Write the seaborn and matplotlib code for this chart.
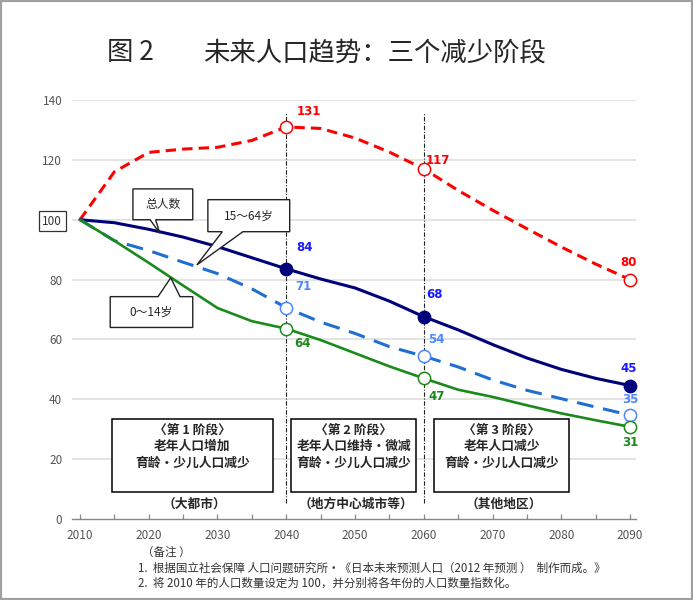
import numpy as np
import pandas as pd
import matplotlib
matplotlib.use("Agg")
import matplotlib.pyplot as plt
from matplotlib.patches import Rectangle, Polygon
import seaborn as sns

# index values (2010 = 100)
years = [2010, 2015, 2020, 2025, 2030, 2035, 2040, 2045, 2050,
         2055, 2060, 2065, 2070, 2075, 2080, 2085, 2090]
elderly = [100, 116, 122.5, 123.6, 124.2, 126.5, 131, 130.5, 127.3,
           122.6, 117, 109.8, 103.2, 97, 90.9, 85.2, 80]
total = [100, 99, 96.8, 94.2, 91, 87.3, 83.6, 80.2, 77.2,
         72.8, 67.6, 63.2, 58.3, 53.8, 50, 47, 44.6]
working = [100, 93, 89.7, 85.8, 82, 76.9, 70.6, 65.8, 62,
           57.6, 54.4, 50.8, 46.5, 43, 40.2, 37.4, 34.7]
children = [100, 93, 85.6, 78, 70.5, 66.1, 63.6, 59.8, 55.4,
            51, 47, 43.2, 40.8, 38, 35.3, 33, 30.8]
mark_years = [2040, 2060, 2090]
stage_lines = [2040, 2060]

yticks = [0, 20, 40, 60, 80, 100, 120, 140]
xticks = [2010, 2020, 2030, 2040, 2050, 2060, 2070, 2080, 2090]

stage_titles = ['〈第 1 阶段〉', '〈第 2 阶段〉', '〈第 3 阶段〉']
stage_line1 = ['老年人口增加', '老年人口维持・微减', '老年人口减少']
stage_line2 = ['育龄・少儿人口减少', '育龄・少儿人口减少', '育龄・少儿人口减少']
stage_areas = ['（大都市）', '（地方中心城市等）', '（其他地区）']

notes = ['（备注 ）',
         '1.  根据国立社会保障 人口问题研究所・《日本未来预测人口（2012 年预测 ）  制作而成。》',
         '2.  将 2010 年的人口数量设定为 100，并分别将各年份的人口数量指数化。']

sns.set_theme(style='white')
plt.rcParams['font.family'] = ['Noto Sans CJK SC', 'DejaVu Sans']

df = pd.DataFrame({'year': years, 'elderly': elderly, 'total': total,
                   'working': working, 'children': children})

fig = plt.figure(figsize=(6.93, 6.0), dpi=100)
ax = fig.add_axes([0.1039, 0.135, 0.8139, 0.6983])

series = [
    # col, line colour, lw, linestyle, marker face, marker edge, label colour, label offsets (pt)
    ('elderly', '#ff0000', 2.2, (0, (3.4, 2.0)), 'white', '#ff0000', '#ff0000',
     [(16, 11), (10, 6), (-1, 12)]),
    ('total', '#00007a', 2.2, '-', '#00007a', '#00007a', '#1a1aff',
     [(13, 15), (8, 16), (-1, 12)]),
    ('working', '#1f6fd0', 2.2, (0, (5.5, 3.2)), 'white', '#4d88ff', '#4d88ff',
     [(12, 15), (9, 12), (0, 11)]),
    ('children', '#1a8a1a', 1.9, '-', 'white', '#1a8a1a', '#1a8a1a',
     [(12, -11), (9, -13), (0, -11)]),
]

for yv in yticks[1:]:
    ax.axhline(yv, color='#dcdcdc', lw=1.1, zorder=0)

for xv in stage_lines:
    ax.plot([xv, xv], [5.5, 136], color='#222222', lw=0.8,
            linestyle=(0, (4, 1.5, 1, 1.5)), zorder=1)

for col, lc, lw, ls, fc, ec, tc, offs in series:
    sns.lineplot(data=df, x='year', y=col, ax=ax, color=lc, linewidth=lw,
                 linestyle=ls, zorder=2)
    sub = df[df['year'].isin(mark_years)]
    sns.scatterplot(data=sub, x='year', y=col, ax=ax, s=78, color=fc,
                    edgecolor=ec, linewidth=1.1, zorder=4, clip_on=False)
    for (_, r), off in zip(sub.iterrows(), offs):
        ax.annotate(f'{round(r[col])}', (r['year'], r[col]), xytext=off,
                    textcoords='offset points', ha='center', va='center',
                    color=tc, fontsize=8.5, fontweight='bold',
                    family=['DejaVu Sans'], zorder=5)

# stage boxes
box_x = [(2014.7, 2038.0), (2040.7, 2058.9), (2061.5, 2081.1)]
for (x0, x1), t0, t1, t2, area in zip(box_x, stage_titles, stage_line1,
                                      stage_line2, stage_areas):
    ax.add_patch(Rectangle((x0, 9.0), x1 - x0, 24.3, facecolor='white',
                           edgecolor='black', lw=1.1, zorder=3))
    cx = (x0 + x1) / 2
    for yy, t in zip([29.6, 24.2, 18.6], [t0, t1, t2]):
        ax.text(cx, yy, t, ha='center', va='center', fontsize=9.2,
                fontweight='bold', zorder=4)
    ax.text(cx + 0.3, 5.0, area, ha='center', va='center', fontsize=9.2,
            fontweight='bold', zorder=4)

# callouts
callouts = [
    ('总人数', (2022.1, 105.2),
     [(2017.7, 110.3), (2026.4, 110.3), (2026.4, 100), (2021.0, 100),
      (2021.6, 95.5), (2020.2, 100), (2017.7, 100)]),
    ('15～64岁', (2034.6, 101.3),
     [(2028.6, 106.7), (2040.5, 106.7), (2040.5, 96), (2033.7, 96),
      (2027.0, 84.9), (2030.7, 96), (2028.6, 96)]),
    ('0～14岁', (2020.4, 69.2),
     [(2014.4, 74.3), (2021.35, 74.3), (2023.2, 80.6), (2024.55, 74.3),
      (2026.4, 74.3), (2026.4, 64), (2014.4, 64)]),
]
for txt, pos, pts in callouts:
    ax.add_patch(Polygon(pts, closed=True, facecolor='white', edgecolor='#222222',
                         lw=1.0, zorder=6, clip_on=False))
    ax.text(pos[0], pos[1], txt, ha='center', va='center', fontsize=8.5, zorder=7)

ax.set_xlim(2008.84, 2090.87)
ax.set_ylim(0, 140)
ax.set_xticks(xticks)
ax.set_xticks([x + 5 for x in xticks[:-1]], minor=True)
ax.set_yticks(yticks)
ax.tick_params(axis='x', which='both', direction='in', length=3.5, width=0.9,
               color='#888888', labelsize=8.5, labelcolor='#555555', pad=7,
               bottom=True)
ax.tick_params(axis='y', length=0, labelsize=8.5, labelcolor='#555555', pad=7)
for lab in ax.get_yticklabels():
    if lab.get_text() == '100':
        lab.set_bbox(dict(boxstyle='square,pad=0.3', facecolor='white',
                          edgecolor='#333333', lw=0.9))
        lab.set_color('#333333')
ax.set_xlabel('')
ax.set_ylabel('')
for s in ['left', 'top', 'right']:
    ax.spines[s].set_visible(False)
ax.spines['bottom'].set_color('#888888')
ax.spines['bottom'].set_linewidth(1.0)

# title
fig.text(107 / 693, 1 - 53 / 600, '图 2', fontsize=19, va='center', ha='left')
fig.text(203 / 693, 1 - 53 / 600, '未来人口趋势：三个减少阶段', fontsize=19,
         va='center', ha='left')

# notes
fig.text(142 / 693, 1 - 552 / 600, notes[0], fontsize=8.3, va='center',
         color='#333333')
fig.text(138 / 693, 1 - 568 / 600, notes[1], fontsize=8.3, va='center',
         color='#333333')
fig.text(138 / 693, 1 - 583 / 600, notes[2], fontsize=8.3, va='center',
         color='#333333')

fig.patches.append(Rectangle((0, 0), 1, 1, transform=fig.transFigure,
                             fill=False, edgecolor='#a0a0a0', lw=3))

fig.savefig('out.png', dpi=100)
